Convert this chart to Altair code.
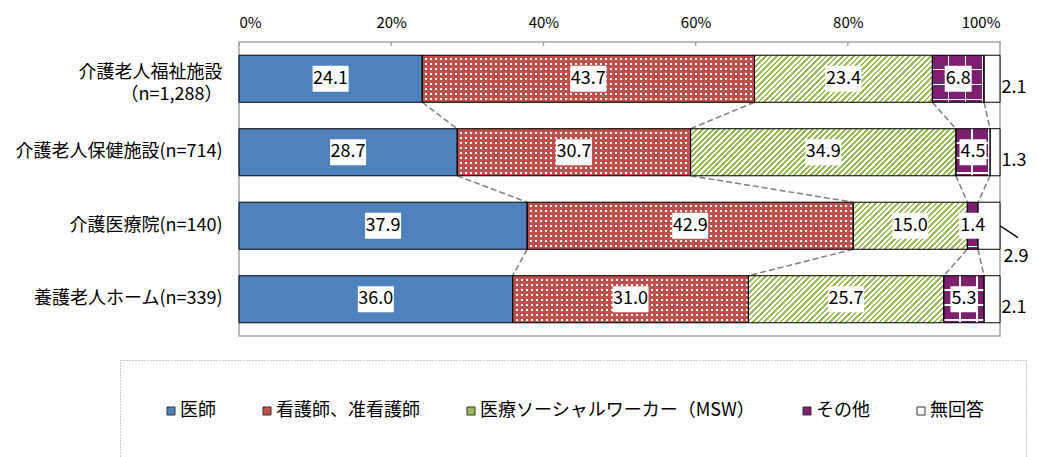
import altair as alt
import pandas as pd

# ---------------- data ----------------
facilities = [
    "介護老人福祉施設\n（n=1,288）",
    "介護老人保健施設(n=714)",
    "介護医療院(n=140)",
    "養護老人ホーム(n=339)",
]
categories = ["医師", "看護師、准看護師", "医療ソーシャルワーカー（MSW）", "その他", "無回答"]
doctor = [24.1, 28.7, 37.9, 36.0]
nurse = [43.7, 30.7, 42.9, 31.0]
msw = [23.4, 34.9, 15.0, 25.7]
other = [6.8, 4.5, 1.4, 5.3]
no_answer = [2.1, 1.3, 2.9, 2.1]
tick_values = [0, 20, 40, 60, 80, 100]

# ---------------- style ----------------
BLUE, RED, GREEN, PURPLE, WHITE = "#4F81BD", "#C0504D", "#9BBB59", "#7B1F6E", "#FFFFFF"
CLEAR = "rgba(255,255,255,0)"
FONT = "Noto Sans CJK JP"
PLOT_W, PLOT_H = 761, 294
P_INNER = 0.36
STEP = PLOT_H / len(facilities)
BAR_H = STEP * (1 - P_INNER)


def band_stops(length, pitch, on, c_on, c_off):
    stops = []
    pos = 0.0
    while pos < length - 1e-9:
        a = pos
        b = min(pos + on, length)
        c = min(pos + pitch, length)
        stops.append({"offset": round(a / length, 5), "color": c_on})
        stops.append({"offset": round(b / length, 5), "color": c_on})
        if c > b:
            stops.append({"offset": round(b / length, 5), "color": c_off})
            stops.append({"offset": round(c / length, 5), "color": c_off})
        pos += pitch
    return stops


def lin(x2, y2, stops):
    return {"gradient": "linear", "x1": 0, "y1": 0, "x2": x2, "y2": y2, "stops": stops}


def patterns(cat, w, h):
    if cat == categories[1]:  # dots
        a = lin(1, 0, band_stops(w, 5, 3, RED, WHITE))
        b = lin(0, 1, band_stops(h, 5, 3, RED, CLEAR))
        return a, b
    if cat == categories[2]:  # diagonal hatch
        L = w + h
        k = L / (w * w + h * h)
        a = lin(k * w, k * h, band_stops(L, 5.5, 2.75, GREEN, WHITE))
        return a, CLEAR
    if cat == categories[3]:  # grid
        a = lin(1, 0, band_stops(w, 17, 15.5, PURPLE, WHITE))
        b = lin(0, 1, band_stops(h, 15, 13.5, CLEAR, WHITE))
        return a, b
    return CLEAR, CLEAR


series = [doctor, nurse, msw, other, no_answer]
rows = []
ends = []
for i, fac in enumerate(facilities):
    vals = [s[i] for s in series]
    total = sum(vals)
    cum = 0.0
    row_ends = []
    for cat, v in zip(categories, vals):
        start = cum / total * 100
        cum += v
        end = cum / total * 100
        row_ends.append(end)
        w = max((end - start) / 100 * PLOT_W, 0.5)
        pa, pb = patterns(cat, w, BAR_H)
        rows.append({
            "facility": fac, "category": cat, "value": v,
            "start": float(start), "end": float(end), "mid": float((start + end) / 2),
            "label": f"{v:.1f}", "patA": pa, "patB": pb,
        })
    ends.append(row_ends)
df = pd.DataFrame(rows)

conn = []
for i in range(len(facilities) - 1):
    for k in range(len(categories) - 1):
        conn.append({"fac_a": facilities[i], "fac_b": facilities[i + 1],
                     "xa": float(ends[i][k]), "xb": float(ends[i + 1][k])})
conn_df = pd.DataFrame(conn)
ticks_df = pd.DataFrame({"t": tick_values})

# ---------------- encodings ----------------
x_scale = alt.Scale(domain=[0, 100], nice=False, zero=True)
x_axis = alt.Axis(orient="top", values=tick_values, labelExpr="datum.value + '%'", title=None,
                  grid=False, domain=False, ticks=False, labelFont=FONT, labelFontSize=15,
                  labelColor="#000", labelPadding=12)
y_scale = alt.Scale(domain=facilities, paddingInner=P_INNER, paddingOuter=P_INNER / 2)
y_axis = alt.Axis(title=None, ticks=False, domain=False, labelFont=FONT, labelFontSize=18,
                  labelColor="#000", labelPadding=17, labelLimit=400, labelLineHeight=22,
                  labelExpr="split(datum.label, '\\n')",
                  labelOffset={"condition": {"test": "indexof(datum.value, '\\n') >= 0", "value": -6},
                               "value": 0})


def X(f):
    return alt.X(f, type="quantitative", scale=x_scale, axis=x_axis)


def Y(f, **kw):
    return alt.Y(f, type="nominal", scale=y_scale, axis=y_axis, **kw)


base = alt.Chart(df)

connectors = alt.Chart(conn_df).mark_rule(color="#7F7F7F", strokeWidth=1.5, strokeDash=[6, 3]).encode(
    x=X("xa"), x2="xb",
    y=Y("fac_a", bandPosition=1), y2=alt.Y2("fac_b", bandPosition=0),
)

bars = base.mark_bar().encode(
    x=X("start"), x2="end", y=Y("facility"),
    color=alt.Color("category:N", scale=alt.Scale(domain=categories, range=[BLUE, RED, GREEN, PURPLE, WHITE]),
                    legend=alt.Legend(orient="none", legendX=-119, legendY=318, direction="horizontal",
                                      columns=5, title=None, symbolType="square", symbolSize=64,
                                      symbolStrokeColor="#333", symbolStrokeWidth=1, labelFont=FONT,
                                      labelFontSize=18, labelColor="#000", labelLimit=400,
                                      columnPadding=42, labelOffset=0, padding=42, strokeColor="#999")),
)

pat_a = base.mark_bar(aria=False).encode(x=X("start"), x2="end", y=Y("facility"),
                                         fill=alt.Fill("patA:N", scale=None, legend=None))
pat_b = base.mark_bar(aria=False).encode(x=X("start"), x2="end", y=Y("facility"),
                                         fill=alt.Fill("patB:N", scale=None, legend=None))
outline = base.mark_bar(fillOpacity=0, stroke="black", strokeWidth=1).encode(
    x=X("start"), x2="end", y=Y("facility"))

inside = base.transform_filter(alt.datum.category != categories[4])
box4 = inside.transform_filter("length(datum.label) >= 4").mark_bar(
    color="white", size=26, xOffset=-18, x2Offset=18).encode(x=X("mid"), x2="mid", y=Y("facility"))
box3 = inside.transform_filter("length(datum.label) < 4").mark_bar(
    color="white", size=26, xOffset=-13.5, x2Offset=13.5).encode(x=X("mid"), x2="mid", y=Y("facility"))
labels = inside.mark_text(font=FONT, fontSize=18, color="black", baseline="middle", align="center").encode(
    x=X("mid"), y=Y("facility"), text="label:N")

outside = base.transform_filter(alt.datum.category == categories[4])
out_main = outside.transform_filter(alt.datum.facility != facilities[2]).mark_text(
    font=FONT, fontSize=18, color="black", baseline="middle", align="center", dx=14, dy=9).encode(
    x=X("end"), y=Y("facility"), text="label:N")
out_special = outside.transform_filter(alt.datum.facility == facilities[2]).mark_text(
    font=FONT, fontSize=18, color="black", baseline="middle", align="center", dx=16, dy=31).encode(
    x=X("end"), y=Y("facility"), text="label:N")
leader = outside.transform_filter(alt.datum.facility == facilities[2]).mark_rule(
    color="black", strokeWidth=1.5, x2Offset=18, y2Offset=12).encode(
    x=X("end"), x2="end", y=Y("facility"), y2="facility")

ticks = alt.Chart(ticks_df).mark_rule(color="#A6A6A6", strokeWidth=1.5).encode(
    x=X("t"), y=alt.value(0), y2=alt.value(4))

chart = alt.layer(
    connectors, bars, pat_a, pat_b, outline, box4, box3, labels, out_main, out_special, leader, ticks
).properties(
    width=PLOT_W, height=PLOT_H,
    padding={"left": 231, "top": 34, "right": 29, "bottom": 121},
    autosize=alt.AutoSizeParams(type="none"),
).configure_view(
    stroke="#A6A6A6", strokeWidth=1.5
).configure_legend(
    strokeDash=[1, 2], strokeWidth=1
)

chart.save("out.html", embed_options={"renderer": "svg", "actions": False})
